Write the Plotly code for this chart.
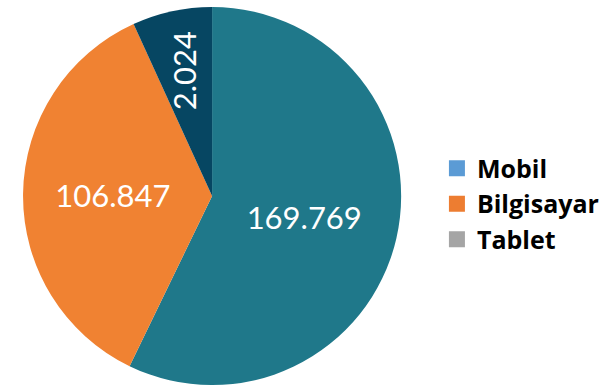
import math
import plotly.graph_objects as go

categories = ["Mobil", "Bilgisayar", "Tablet"]
slice_values = [169.769, 106.847, 20.24]
value_labels = ["169.769", "106.847", "2.024"]
slice_colors = ["#1F788A", "#F08232", "#064662"]
legend_colors = ["#5B9BD5", "#ED7D31", "#A5A5A5"]

W, H = 606, 389
dom = dict(x=[0.038, 0.662], y=[0.010, 0.982])
label_font = dict(family="Lato, Open Sans, sans-serif", size=31, color="white")

fig = go.Figure()
fig.add_trace(go.Pie(
    labels=categories,
    values=slice_values,
    text=[t if i < 2 else "" for i, t in enumerate(value_labels)],
    textinfo="text",
    textposition="inside",
    insidetextorientation="horizontal",
    sort=False,
    direction="clockwise",
    rotation=0,
    marker=dict(colors=slice_colors, line=dict(width=0)),
    textfont=label_font,
    domain=dom,
    showlegend=False,
    hoverinfo="label+text",
))

# vertical label for the narrow slice, placed at the slice's mid-angle
total = sum(slice_values)
start = sum(slice_values[:2]) / total
mid = start + slice_values[2] / total / 2
ang = 2 * math.pi * mid
cx = (dom["x"][0] + dom["x"][1]) / 2 * W
cy = (dom["y"][0] + dom["y"][1]) / 2 * H
R = min((dom["x"][1] - dom["x"][0]) * W, (dom["y"][1] - dom["y"][0]) * H) / 2
rl = 0.68 * R
fig.add_annotation(
    x=(cx + rl * math.sin(ang)) / W, y=(cy + rl * math.cos(ang)) / H,
    xref="paper", yref="paper", text=value_labels[2], showarrow=False,
    textangle=-90, font=label_font, xanchor="center", yanchor="middle",
)

for name, col in zip(categories, legend_colors):
    fig.add_trace(go.Scatter(
        x=[None], y=[None], mode="markers", name=name,
        marker=dict(symbol="square", size=16, color=col),
    ))

fig.update_layout(
    width=W, height=H,
    margin=dict(l=0, r=0, t=0, b=0),
    paper_bgcolor="white", plot_bgcolor="white",
    xaxis=dict(visible=False), yaxis=dict(visible=False),
    legend=dict(
        x=0.721, y=0.4756, xanchor="left", yanchor="middle",
        font=dict(family="Open Sans, sans-serif", size=25, color="black", weight="bold"),
        itemsizing="trace", tracegroupgap=0,
        bgcolor="rgba(0,0,0,0)",
    ),
)

fig.write_html("out.html", config={"displayModeBar": False},
               post_script="document.body.style.margin='0';")
